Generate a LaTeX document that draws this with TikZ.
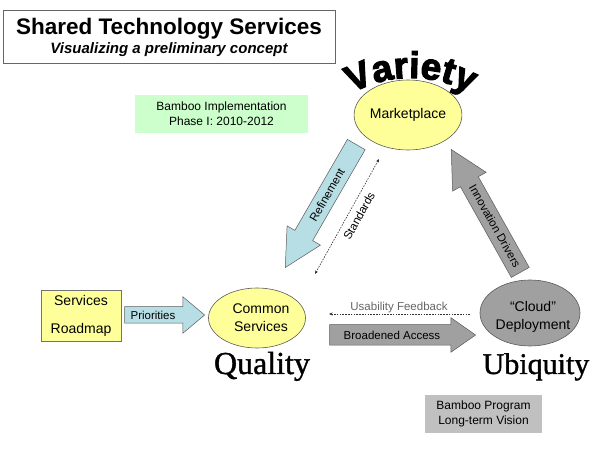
\documentclass[tikz,border=0pt]{standalone}
\usepackage{fontspec}
\setmainfont{Liberation Sans}
\newfontfamily\serifword[FakeBold=1.2]{Liberation Serif}
\newfontfamily\heavyfont[BoldFeatures={FakeBold=3}]{Liberation Sans}
\usetikzlibrary{shapes.geometric,shapes.arrows,decorations.text,arrows.meta}

\definecolor{paleyellow}{RGB}{255,255,153}
\definecolor{palegreen}{RGB}{204,255,204}
\definecolor{paleblue}{RGB}{183,222,228}
\definecolor{midgray}{RGB}{160,160,160}
\definecolor{boxgray}{RGB}{192,192,192}
\definecolor{edgegray}{RGB}{90,90,90}

\tikzset{
  oval/.style={ellipse, draw=edgegray, line width=0.6pt, inner sep=0pt, align=center,
               font=\fontsize{14}{18}\selectfont},
  infobox/.style={rectangle, inner sep=0pt, align=center, font=\fontsize{12}{15}\selectfont},
  fatarrow/.style={single arrow, draw=edgegray, line width=0.5pt, inner xsep=0pt,
                   inner ysep=10pt, single arrow head extend=9pt, single arrow tip angle=55},
  arrowlabel/.style={font=\fontsize{11.5}{13}\selectfont, inner sep=0pt},
  dotline/.style={draw=black!80, line width=0.6pt, dash pattern=on 1.6pt off 1.2pt},
  bigword/.style={font=\serifword\fontsize{32}{32}\selectfont, inner sep=0pt, anchor=base}
}

\begin{document}
\begin{tikzpicture}[x=1pt,y=1pt]
\useasboundingbox (0,0) rectangle (600,450);
\fill[white] (0,0) rectangle (600,450);

% heading panel
\node[draw=black!60, line width=0.6pt, minimum width=332pt, minimum height=53pt, inner sep=0pt]
  (titlebox) at (169,413.5) {};
\node[font=\bfseries\fontsize{22.5}{24}\selectfont, inner sep=0pt] (title) at (169,421) {Shared Technology Services};
\node[font=\bfseries\itshape\fontsize{15}{17}\selectfont, inner sep=0pt] (subtitle) at (169,400) {Visualizing a preliminary concept};

% the three service ellipses
\node[oval, fill=paleyellow, minimum width=106pt, minimum height=70pt] (market) at (408,335) {Marketplace};
\node[oval, fill=paleyellow, minimum width=97pt, minimum height=60pt] (common) at (257,132) {};
\node[font=\fontsize{14}{18}\selectfont, align=center, inner sep=0pt] (commontext) at (261,132) {Common\\Services};
\node[oval, fill=midgray, minimum width=100pt, minimum height=66pt] (cloud) at (530,137) {};
\node[font=\fontsize{14}{18}\selectfont, align=center, inner sep=0pt] (cloudtext) at (533,133) {\char"201C Cloud\char"201D\\Deployment};

% curved heading over the marketplace
\path[decorate, decoration={text along path, text align=center,
      text={|\heavyfont\bfseries\fontsize{37}{37}\selectfont|Variety}}]
  (411,250) ++(155:122) arc[start angle=155, end angle=25, radius=122];

% words under the lower ellipses
\node[bigword] (quality) at (262,76) {Quality};
\node[bigword, font=\serifword\fontsize{30}{30}\selectfont] (ubiquity) at (536,76) {Ubiquity};

% information boxes
\node[infobox, fill=palegreen, minimum width=173pt, minimum height=38pt] (phase) at (221.5,336) {Bamboo Implementation\\Phase I: 2010-2012};
\node[infobox, fill=boxgray, minimum width=117pt, minimum height=38pt] (vision) at (483.5,36) {Bamboo Program\\Long-term Vision};
\node[infobox, draw=black!55, line width=0.5pt, fill=paleyellow, minimum width=80pt, minimum height=51pt,
      font=\fontsize{14}{28}\selectfont] (roadmap) at (81,134.5) {Services\\Roadmap};

% block arrows
\node[fatarrow, fill=paleblue, minimum height=80pt, inner ysep=8pt, single arrow head extend=10pt,
      single arrow tip angle=80, anchor=tip] (prio) at (205,135) {};
\node[arrowlabel] at (153,135) {Priorities};

\node[fatarrow, fill=midgray, minimum height=146pt, inner ysep=10pt, single arrow head extend=7pt,
      single arrow tip angle=70, anchor=tip] (access) at (476,115) {};
\node[arrowlabel] at (392,115) {Broadened Access};

\node[fatarrow, fill=paleblue, minimum height=142pt, rotate=240, anchor=tip] (refine) at (285,182) {};
\node[arrowlabel, rotate=60] at (327,255) {Refinement};

\node[fatarrow, fill=midgray, minimum height=141pt, rotate=119.3, anchor=tip] (innov) at (451,301) {};
\node[arrowlabel, rotate=-60.7] at (495,224) {Innovation Drivers};

% dotted exchange lines
\coordinate (stdtop) at (379,291);
\coordinate (stdbot) at (315,176);
\draw[dotline, {Stealth[length=3.5pt,width=3pt]}-{Stealth[length=3.5pt,width=3pt]}] (stdtop) -- (stdbot);
\node[arrowlabel, rotate=61] at (359,234) {Standards};

\coordinate (fbstart) at (470,136);
\coordinate (fbend) at (329,136);
\draw[dotline, -{Stealth[length=3.5pt,width=3pt]}] (fbstart) -- (fbend);
\node[arrowlabel, text=black!60, anchor=south] at (399,136.5) {Usability Feedback};
\end{tikzpicture}
\end{document}
